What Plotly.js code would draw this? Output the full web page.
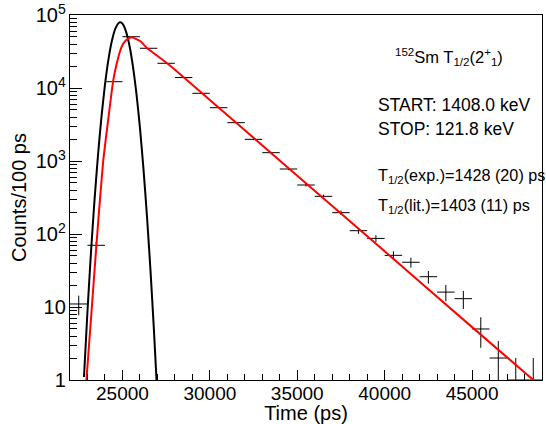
<!DOCTYPE html>
<html>
<head>
<meta charset="utf-8">
<script src="https://cdn.plot.ly/plotly-3.0.1.min.js"></script>
<style>html,body{margin:0;padding:0;background:#fff;}#chart{width:546px;height:424px;}</style>
</head>
<body>
<div id="chart"></div>
<script>
// Measured time spectrum (bin centres, ps) and counts per bin
var timeCenters = [22500, 23500, 24500, 25500, 26500, 27500, 28500, 29500, 30500, 31500,
                   32500, 33500, 34500, 35500, 36500, 37500, 38500, 39500, 40500, 41500,
                   42500, 43500, 44500, 45500, 46500, 47500, 48500];
var counts = [11, 70, 12200, 50400, 35000, 21800, 13900, 8460, 5370, 3350,
              1980, 1300, 777, 469, 328, 196, 111, 87, 51, 41,
              26, 16, 13, 5, 2, 1, 1];
var binHalfWidth = 500;

// Prompt response (black curve)
var promptX = [22800, 23000, 23200, 23400, 23600, 23800, 24000, 24200, 24400, 24600,
               24800, 24870, 25000, 25200, 25400, 25600, 25800, 26000, 26200, 26400,
               26600, 26800, 26950];
var promptY = [1.1, 8.8, 56, 286, 1190, 4030, 11070, 24700, 44700, 65700,
               78400, 79400, 76000, 59800, 38200, 19800, 8360, 2860, 794, 179,
               33, 4.9, 1.0];

// Fitted slope (red curve)
var fitX = [22940, 23230, 23510, 23650, 23900, 24180, 24470, 24660, 24940, 25200,
            25515, 26010, 26420, 27614, 30000, 35000, 40000, 45000, 48505];
var fitY = [1.0, 8.6, 70, 190, 1000, 3600, 12500, 21000, 36000, 45000,
            49500, 44000, 35000, 21300, 6840, 630, 58, 5.3, 1.0];

var FONT = 'Liberation Sans, Arial, Helvetica, sans-serif';

var traces = [
  {
    type: 'scatter', mode: 'markers',
    x: timeCenters, y: counts,
    marker: {size: 0.1, color: 'black'},
    error_y: {type: 'sqrt', color: 'black', thickness: 1, width: 0},
    error_x: {type: 'constant', value: binHalfWidth, color: 'black', thickness: 1, width: 0},
    showlegend: false, hoverinfo: 'skip'
  },
  {
    type: 'scatter', mode: 'lines',
    x: promptX, y: promptY,
    line: {color: 'black', width: 2, shape: 'spline', smoothing: 0.6},
    showlegend: false, hoverinfo: 'skip'
  },
  {
    type: 'scatter', mode: 'lines',
    x: fitX, y: fitY,
    line: {color: '#ff0000', width: 2, shape: 'spline', smoothing: 0.5},
    showlegend: false, hoverinfo: 'skip'
  }
];

var ann = function (text, x, y, size) {
  return {xref: 'paper', yref: 'paper', x: x, y: y, xanchor: 'left', yanchor: 'middle',
          text: text, showarrow: false, font: {family: FONT, size: size, color: 'black'}};
};

var layout = {
  width: 546, height: 424,
  margin: {l: 70, r: 4, t: 15, b: 44, pad: 0},
  paper_bgcolor: 'white', plot_bgcolor: 'white',
  font: {family: FONT, color: 'black'},
  showlegend: false,
  xaxis: {
    range: [22000, 49000],
    tick0: 0, dtick: 5000, tickformat: 'd',
    ticks: 'inside', ticklen: 10, tickwidth: 1, tickcolor: 'black',
    minor: {dtick: 1000, ticks: 'inside', ticklen: 6, tickcolor: 'black', showgrid: false},
    showgrid: false, zeroline: false,
    showline: true, linecolor: 'black', linewidth: 1, mirror: true,
    ticklabelstandoff: -4,
    tickfont: {family: FONT, size: 19, color: 'black'},
    title: {text: 'Time (ps)', font: {family: FONT, size: 20, color: 'black'}, standoff: 2}
  },
  yaxis: {
    type: 'log', range: [0, 5], dtick: 1,
    exponentformat: 'power',
    ticks: 'inside', ticklen: 12, tickwidth: 1, tickcolor: 'black',
    minor: {dtick: 'D1', ticks: 'inside', ticklen: 7, tickcolor: 'black', showgrid: false},
    showgrid: false, zeroline: false,
    showline: true, linecolor: 'black', linewidth: 1, mirror: true,
    tickfont: {family: FONT, size: 16, color: 'black'},
    title: {text: 'Counts/100 ps', font: {family: FONT, size: 20, color: 'black'}, standoff: 3}
  },
  annotations: [
    ann('<sup>152</sup>Sm T<sub>1/2</sub>(2<sup>+</sup><sub>1</sub>)', 0.684, 0.885, 16.5),
    ann('START: 1408.0 keV', 0.648, 0.753, 17.5),
    ann('STOP: 121.8 keV', 0.648, 0.687, 17.5),
    ann('T<sub>1/2</sub>(exp.)=1428 (20) ps', 0.648, 0.559, 16.2),
    ann('T<sub>1/2</sub>(lit.)=1403 (11) ps', 0.648, 0.477, 16.2)
  ]
};

Plotly.newPlot('chart', traces, layout, {displayModeBar: false, staticPlot: true});
</script>
</body>
</html>
